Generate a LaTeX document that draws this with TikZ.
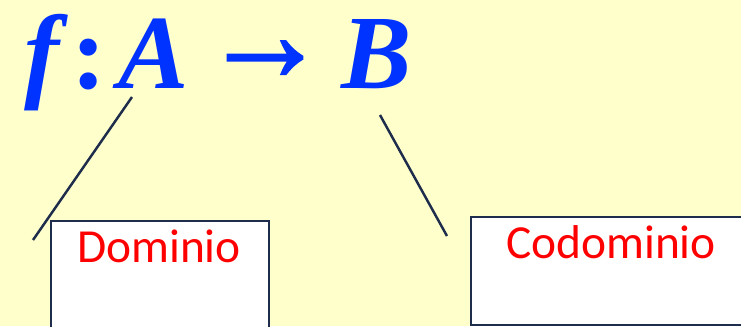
\documentclass[tikz,border=0pt]{standalone}
\usepackage{fontspec}
\setmainfont{Carlito}
\newfontfamily\formulafont{Liberation Serif}
\newfontfamily\arrowfont[FakeBold=1.5]{Liberation Serif}
\usetikzlibrary{positioning}
\definecolor{bgyellow}{HTML}{FFFFCC}
\definecolor{fblue}{HTML}{0033FF}
\definecolor{navy}{HTML}{1F2D4D}

\begin{document}
\begin{tikzpicture}[x=0.02cm, y=-0.02cm,
    sym/.style={text=fblue, font=\formulafont\bfseries\itshape\fontsize{60}{60}\selectfont, inner sep=0pt, anchor=base},
    setbox/.style={draw=navy, line width=1.2pt, fill=white, anchor=north west, inner sep=0pt},
    setname/.style={text=red, font=\fontsize{27}{27}\selectfont, inner sep=0pt, anchor=base},
    link/.style={draw=navy, line width=1.4pt}
  ]
  \clip (0,0) rectangle (741,326);
  \fill[bgyellow] (0,0) rectangle (741,326);

  \node[sym] (f) at (42,88) {f};
  \node[sym, font=\formulafont\bfseries\fontsize{60}{60}\selectfont] (colon) at (89,88) {:};
  \node[sym] (A) at (154,88) {A};
  \node[sym, font=\arrowfont\bfseries\fontsize{80}{80}\selectfont] (arrow) at (265,81) {\scalebox{0.9}[1]{→}};
  \node[sym] (B) at (377,88) {B};

  \node[setbox, minimum width=4.36cm, minimum height=2.6cm] (dom) at (50,220) {};
  \node[setname] (domname) at (159,262) {Dominio};
  \node[setbox, minimum width=5.64cm, minimum height=2.16cm] (cod) at (470,216) {};
  \node[setname] (codname) at (611,258) {Codominio};

  \coordinate (domfrom) at (132,97);
  \coordinate (domto) at (33,240);
  \coordinate (codfrom) at (380,115);
  \coordinate (codto) at (447,236);
  \draw[link] (domfrom) -- (domto);
  \draw[link] (codfrom) -- (codto);
\end{tikzpicture}
\end{document}
